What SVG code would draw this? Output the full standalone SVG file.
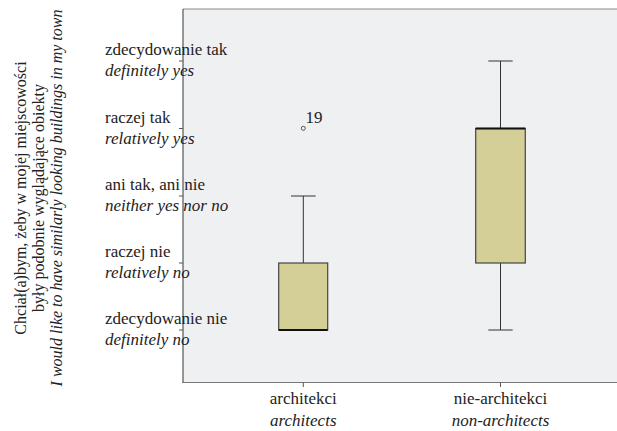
<svg xmlns="http://www.w3.org/2000/svg" width="617" height="431" viewBox="0 0 617 431">
<style>
text{font-family:'Liberation Serif','Times New Roman',serif !important;fill:#222}
.lab{font-size:17px}
.it{font-style:italic}
.ttl{font-size:16px}
.box{fill:#d3cf97;stroke:#444;stroke-width:1.2}
.wh{stroke:#333;stroke-width:1;fill:none}
.med{stroke:#111;stroke-width:2.2}
.tick{stroke:#555;stroke-width:1}
</style>
<rect width="617" height="431" fill="#fff"/>
<g id="plot-area">
<rect x="183" y="9" width="440" height="373.5" fill="#eff0f2"/>
<line x1="183" y1="9" x2="617" y2="9" stroke="#888" stroke-width="1"/>
<line x1="183" y1="9" x2="183" y2="383" stroke="#555" stroke-width="1.2"/>
<line x1="182.5" y1="382.5" x2="617" y2="382.5" stroke="#777" stroke-width="1.2"/>
</g>
<g id="axis-title">
<text class="ttl" style="font-family:'Liberation Serif','Times New Roman',serif !important" font-family="Liberation Serif, serif" text-anchor="middle" transform="translate(26,198) rotate(-90)">Chciał(a)bym, żeby w mojej miejscowości</text>
<text class="ttl" style="font-family:'Liberation Serif','Times New Roman',serif !important" font-family="Liberation Serif, serif" text-anchor="middle" transform="translate(44,198) rotate(-90)">były podobnie wyglądające obiekty</text>
<text class="ttl it" style="font-family:'Liberation Serif','Times New Roman',serif !important" font-family="Liberation Serif, serif" text-anchor="middle" transform="translate(62,198) rotate(-90)">I would like to have similarly looking buildings in my town</text>
</g>
<g id="y-ticks">
<line class="tick" x1="179" y1="61" x2="183" y2="61"/>
<line class="tick" x1="179" y1="128.5" x2="183" y2="128.5"/>
<line class="tick" x1="179" y1="196" x2="183" y2="196"/>
<line class="tick" x1="179" y1="263" x2="183" y2="263"/>
<line class="tick" x1="179" y1="330" x2="183" y2="330"/>
</g>
<g id="y-labels">
<text class="lab" style="font-family:'Liberation Serif','Times New Roman',serif !important" font-family="Liberation Serif, serif" x="105" y="55">zdecydowanie tak</text>
<text class="lab it" style="font-family:'Liberation Serif','Times New Roman',serif !important" font-family="Liberation Serif, serif" x="105" y="76">definitely yes</text>
<text class="lab" style="font-family:'Liberation Serif','Times New Roman',serif !important" font-family="Liberation Serif, serif" x="105" y="122.5">raczej tak</text>
<text class="lab it" style="font-family:'Liberation Serif','Times New Roman',serif !important" font-family="Liberation Serif, serif" x="105" y="143.5">relatively yes</text>
<text class="lab" style="font-family:'Liberation Serif','Times New Roman',serif !important" font-family="Liberation Serif, serif" x="105" y="190">ani tak, ani nie</text>
<text class="lab it" style="font-family:'Liberation Serif','Times New Roman',serif !important" font-family="Liberation Serif, serif" x="105" y="211">neither yes nor no</text>
<text class="lab" style="font-family:'Liberation Serif','Times New Roman',serif !important" font-family="Liberation Serif, serif" x="105" y="257">raczej nie</text>
<text class="lab it" style="font-family:'Liberation Serif','Times New Roman',serif !important" font-family="Liberation Serif, serif" x="105" y="278">relatively no</text>
<text class="lab" style="font-family:'Liberation Serif','Times New Roman',serif !important" font-family="Liberation Serif, serif" x="105" y="324">zdecydowanie nie</text>
<text class="lab it" style="font-family:'Liberation Serif','Times New Roman',serif !important" font-family="Liberation Serif, serif" x="105" y="345">definitely no</text>
</g>
<g id="connectors">
<line class="wh" x1="303.3" y1="196" x2="303.3" y2="263"/>
<line class="wh" x1="291" y1="196" x2="315.7" y2="196"/>
<line class="wh" x1="500.5" y1="61" x2="500.5" y2="128.5"/>
<line class="wh" x1="488.3" y1="61" x2="512.7" y2="61"/>
<line class="wh" x1="500.5" y1="263" x2="500.5" y2="330"/>
<line class="wh" x1="488.3" y1="330" x2="512.7" y2="330"/>
</g>
<g id="box-architects">
<rect class="box" x="278.7" y="263" width="49" height="67"/>
<line class="med" x1="278.7" y1="330" x2="327.7" y2="330"/>
</g>
<g id="box-non-architects">
<rect class="box" x="475.7" y="128.5" width="49.6" height="134.5"/>
<line class="med" x1="475.7" y1="128.5" x2="525.3" y2="128.5"/>
</g>
<g id="outlier-19">
<circle cx="303.3" cy="128.3" r="2" fill="none" stroke="#444" stroke-width="0.9"/>
<text class="lab" style="font-family:'Liberation Serif','Times New Roman',serif !important" font-family="Liberation Serif, serif" x="305.5" y="123">19</text>
</g>
<g id="x-ticks">
<line class="tick" x1="303.3" y1="382.5" x2="303.3" y2="387"/>
<line class="tick" x1="500.5" y1="382.5" x2="500.5" y2="387"/>
</g>
<g id="x-labels">
<text class="lab" style="font-family:'Liberation Serif','Times New Roman',serif !important" font-family="Liberation Serif, serif" x="303.3" y="404" text-anchor="middle">architekci</text>
<text class="lab it" style="font-family:'Liberation Serif','Times New Roman',serif !important" font-family="Liberation Serif, serif" x="303.3" y="425.5" text-anchor="middle">architects</text>
<text class="lab" style="font-family:'Liberation Serif','Times New Roman',serif !important" font-family="Liberation Serif, serif" x="500.5" y="404" text-anchor="middle">nie-architekci</text>
<text class="lab it" style="font-family:'Liberation Serif','Times New Roman',serif !important" font-family="Liberation Serif, serif" x="500.5" y="425.5" text-anchor="middle">non-architects</text>
</g>
</svg>
